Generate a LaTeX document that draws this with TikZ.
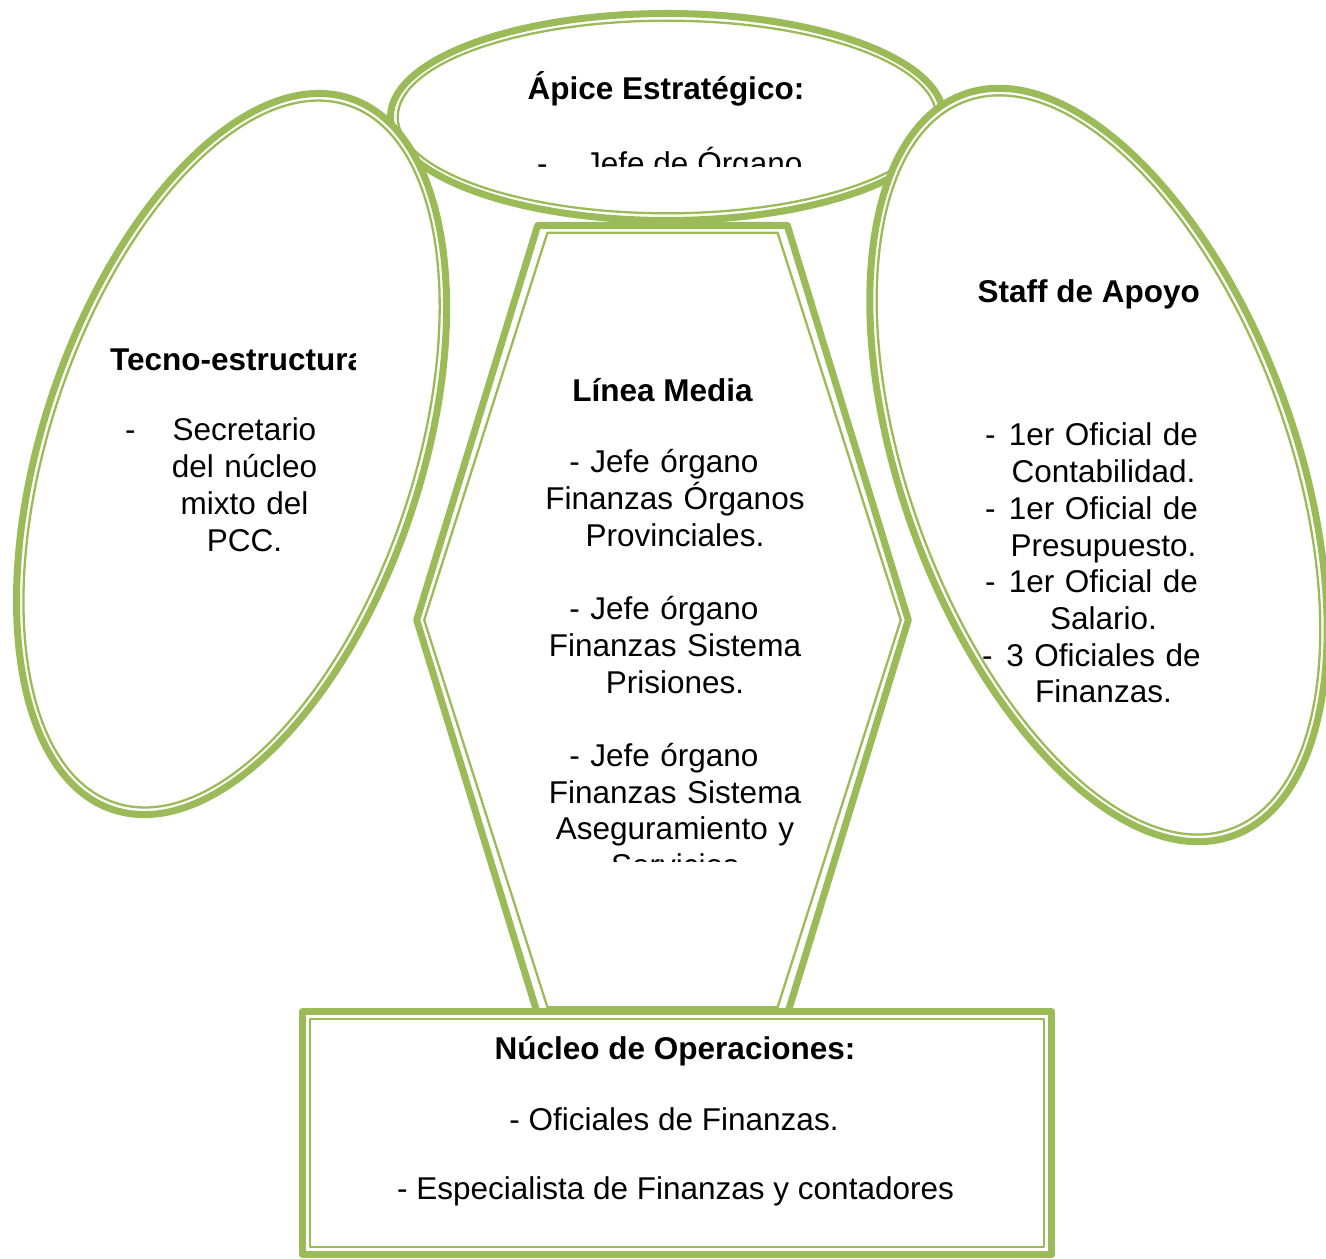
\documentclass[tikz,border=0pt]{standalone}
\usepackage{fontspec}
\setmainfont{Liberation Sans}
\usepackage{tikz}
\usetikzlibrary{positioning, calc}
\definecolor{olivegreen}{HTML}{9BBB59}

\tikzset{
  outerline/.style={draw=olivegreen, line width=7pt, fill=white, line join=round},
  innerline/.style={draw=olivegreen, line width=2.3pt, line join=round},
  lbl/.style={font=\fontsize{31.5}{36.7}\selectfont, inner sep=0pt, anchor=base},
  lblbold/.style={lbl, font=\fontsize{31.5}{36.7}\selectfont\bfseries}
}

\begin{document}
\begin{tikzpicture}[x=1pt, y=1pt]
  \useasboundingbox (0,0) rectangle (1326,1259);
  \coordinate (topcen) at (667,1142);
  \coordinate (leftcen) at (231.5,805);
  \coordinate (rightcen) at (1098.5,794);

  % linea media
  \draw[outerline] (537.7,1033.5) -- (787.3,1033.5) -- (908.3,639) -- (787.3,244.5)
    -- (537.7,244.5) -- (416.7,639) -- cycle;
  \draw[innerline] (547.4,1026.3) -- (777.6,1026.3) -- (900.8,639) -- (777.6,251.7)
    -- (547.4,251.7) -- (424.2,639) -- cycle;

  % apice
  \draw[outerline] (topcen) ellipse [x radius=276.5, y radius=103.5];
  \draw[innerline] (topcen) ellipse [x radius=269.3, y radius=96.3];

  % tecno-estructura
  \draw[outerline, rotate around={71.5:(leftcen)}] (leftcen) ellipse [x radius=374.9, y radius=188.9];
  \draw[innerline, rotate around={71.5:(leftcen)}] (leftcen) ellipse [x radius=367.7, y radius=181.7];

  % staff
  \draw[outerline, rotate around={110:(rightcen)}] (rightcen) ellipse [x radius=394.4, y radius=196.5];
  \draw[innerline, rotate around={110:(rightcen)}] (rightcen) ellipse [x radius=387.2, y radius=189.3];

  % nucleo
  \draw[outerline] (302.5,4.5) rectangle (1051.5,247.5);
  \draw[innerline] (309.7,11.7) rectangle (1044.3,240.3);

  \node[lblbold] (apice) at (666,1159) {Ápice Estratégico:};
  \begin{scope}
    \clip (300,1092.3) rectangle (1000,1200);
    \node[lbl, anchor=base west] (apicedash) at (537,1084) {-};
    \node[lbl, anchor=base west] (apicejefe) at (585,1084) {Jefe de Órgano};
  \end{scope}

  \begin{scope}
    \clip (0,850) rectangle (355,950);
    \node[lblbold, anchor=base west] (tecno) at (110,888) {Tecno-estructura};
  \end{scope}
  \node[lbl, anchor=base west] (tecnodash) at (125,818) {-};
  \node[lbl, text width=200pt, align=center] (tecnotxt) at (244.5,818)
    {Secretario\\del núcleo\\mixto del\\PCC.};

  \node[lblbold] (linea) at (662.5,857) {Línea Media};
  \begin{scope}
    \clip (400,397) rectangle (950,820);
    \node[lbl, text width=320pt, align=center] (lineatxt) at (675,786)
      {- Jefe órgano\rule{22pt}{0pt}\\Finanzas Órganos\\Provinciales.\\[36.7pt]
       - Jefe órgano\rule{22pt}{0pt}\\Finanzas Sistema\\Prisiones.\\[36.7pt]
       - Jefe órgano\rule{22pt}{0pt}\\Finanzas Sistema\\Aseguramiento y\\Servicios};
  \end{scope}

  \begin{scope}
    \clip (973,900) rectangle (1300,1000);
    \node[lblbold, anchor=base east] (staff) at (1200,956) {Staff de Apoyo};
  \end{scope}
  \node[lbl, text width=240pt, align=center] (stafftxt) at (1103.5,813)
    {1er Oficial de\\Contabilidad.\\1er Oficial de\\Presupuesto.\\1er Oficial de\\Salario.\\3 Oficiales de\\Finanzas.};
  \node[lbl, anchor=base west] (staffdasha) at (985,813) {-};
  \node[lbl, anchor=base west] (staffdashb) at (985,739.6) {-};
  \node[lbl, anchor=base west] (staffdashc) at (985,666.2) {-};
  \node[lbl, anchor=base west] (staffdashd) at (982,592.8) {-};

  \node[lblbold] (nucleo) at (675,199) {Núcleo de Operaciones:};
  \node[lbl] (nucleoa) at (674,128) {- Oficiales de Finanzas.};
  \node[lbl] (nucleob) at (675.5,59) {- Especialista de Finanzas y contadores};
\end{tikzpicture}
\end{document}
